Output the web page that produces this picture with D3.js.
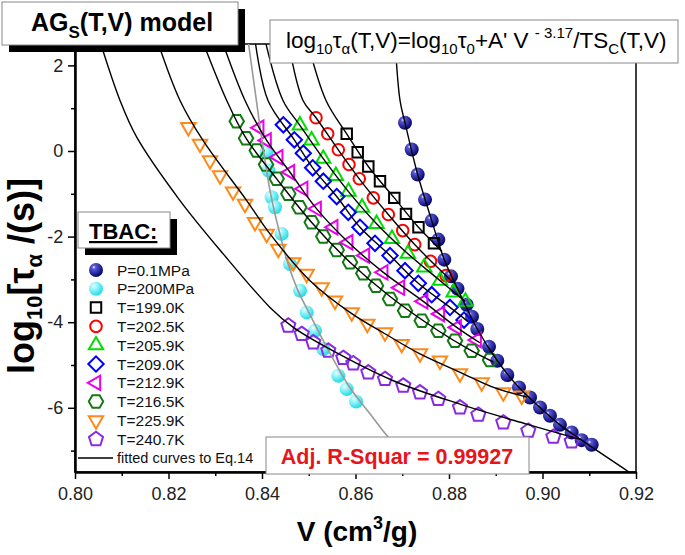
<!DOCTYPE html>
<html><head><meta charset="utf-8">
<script src="https://cdn.jsdelivr.net/npm/d3@7"></script>
<style>body{margin:0;background:#fff}svg{display:block;font-family:Arial,"Liberation Sans",sans-serif}</style>
</head><body><svg id="c" width="685" height="555"></svg>
<script>
// ---------- data (V in cm3/g, log10 tau) ----------
const xTicks = [0.80,0.82,0.84,0.86,0.88,0.90,0.92];
const xMinor = [0.81,0.83,0.85,0.87,0.89,0.91];
const yTicks = [-6,-4,-2,0,2];
const yMinor = [-7,-5,-3,-1,1];

const isobar01 = [[0.87059,0.660],[0.87202,0.035],[0.87330,-0.550],[0.87487,-1.135],[0.87630,-1.626],[0.87771,-2.070],[0.87899,-2.538],[0.88043,-2.929],[0.88182,-3.216],[0.88378,-3.591],[0.88492,-3.871],[0.88605,-4.159],[0.88856,-4.573],[0.89033,-4.901],[0.89247,-5.235],[0.89497,-5.525],[0.89733,-5.759],[0.89947,-5.993],[0.90160,-6.187],[0.90374,-6.398],[0.90624,-6.578],[0.90838,-6.756],[0.91052,-6.865]];
const isobar200 = [[0.84100,-0.028],[0.84139,-0.456],[0.84207,-1.081],[0.84278,-1.315],[0.84421,-1.937],[0.84599,-2.639],[0.84813,-3.263],[0.84956,-3.771],[0.85134,-4.199],[0.85311,-4.627],[0.85632,-5.251],[0.85812,-5.563],[0.86011,-5.853]];
const T1990 = [[0.85812,0.402],[0.86047,-0.028],[0.86274,-0.363],[0.86524,-0.706],[0.86830,-1.095],[0.87080,-1.469],[0.87347,-1.782],[0.87679,-2.157]];
const T2025 = [[0.85155,0.777],[0.85405,0.402],[0.85632,0.028],[0.85861,-0.316],[0.86081,-0.650],[0.86381,-1.095],[0.86702,-1.485],[0.87010,-1.860],[0.87266,-2.187],[0.87604,-2.578],[0.87936,-2.912]];
const T2059 = [[0.8481,0.60],[0.8506,0.25],[0.8531,-0.18],[0.8558,-0.58],[0.8585,-0.95],[0.8614,-1.32],[0.8645,-1.70],[0.8678,-2.05],[0.8712,-2.40],[0.8747,-2.72],[0.8781,-3.03],[0.8810,-3.30],[0.8835,-3.52]];
const T2090 = [[0.84456,0.613],[0.84691,0.262],[0.84883,-0.051],[0.85084,-0.393],[0.85311,-0.706],[0.85598,-1.064],[0.85846,-1.432],[0.86096,-1.782],[0.86417,-2.157],[0.86738,-2.444],[0.87059,-2.795],[0.87343,-3.092],[0.87630,-3.357],[0.88021,-3.654],[0.88321,-3.949]];
const T2129 = [[0.83942,0.543],[0.84100,0.246],[0.84349,-0.145],[0.84599,-0.496],[0.84883,-0.884],[0.85170,-1.352],[0.85525,-1.782],[0.85846,-2.133],[0.86203,-2.444],[0.86595,-2.835],[0.86952,-3.193],[0.87450,-3.513],[0.87807,-3.808],[0.88165,-4.122],[0.88593,-4.416]];
const T2165 = [[0.83459,0.697],[0.83658,0.299],[0.83887,0.012],[0.84086,-0.316],[0.84314,-0.650],[0.84563,-1.001],[0.84798,-1.315],[0.85063,-1.666],[0.85311,-2.000],[0.85598,-2.311],[0.85882,-2.601],[0.86167,-2.858],[0.86439,-3.146],[0.86738,-3.457],[0.87059,-3.731],[0.87416,-3.965],[0.87771,-4.199],[0.88128,-4.433],[0.88485,-4.667],[0.88877,-4.884]];
const T2259 = [[0.82424,0.557],[0.82674,0.168],[0.82888,-0.222],[0.83102,-0.573],[0.83380,-0.947],[0.83636,-1.235],[0.83850,-1.665],[0.84100,-1.937],[0.84349,-2.288],[0.84670,-2.601],[0.84956,-2.873],[0.85277,-3.186],[0.85561,-3.497],[0.85919,-3.771],[0.86253,-4.042],[0.86631,-4.239],[0.86988,-4.510],[0.87380,-4.730],[0.87807,-4.901],[0.88235,-5.198],[0.88699,-5.408],[0.89161,-5.642],[0.89555,-5.719]];
const T2407 = [[0.84563,-4.082],[0.84849,-4.276],[0.85097,-4.473],[0.85418,-4.667],[0.85739,-4.837],[0.85953,-4.964],[0.86274,-5.175],[0.86631,-5.329],[0.87022,-5.485],[0.87380,-5.642],[0.87771,-5.796],[0.88235,-5.993],[0.88627,-6.164],[0.89161,-6.344],[0.89696,-6.538],[0.90231,-6.678],[0.90624,-6.788]];

// fitted curves
const fit01 = [[0.86845,2.6],[0.86952,1.181],[0.87059,0.660],[0.87330,-0.550],[0.87630,-1.626],[0.87899,-2.538],[0.88182,-3.216],[0.88605,-4.159],[0.89033,-4.901],[0.89497,-5.525],[0.89947,-5.993],[0.90374,-6.398],[0.90838,-6.756],[0.9185,-7.5]];
const fit200 = [[0.83700,2.6],[0.83850,1.415],[0.84000,0.246],[0.84171,-0.924],[0.84364,-1.860],[0.84556,-2.632],[0.84770,-3.263],[0.85027,-3.825],[0.85391,-4.596],[0.85882,-5.532],[0.86310,-6.140],[0.86674,-6.655],[0.8739,-7.5]];
const fit1990 = [[0.84963,2.6],[0.85369,1.181],[0.85812,0.402],[0.86274,-0.363],[0.86830,-1.095],[0.87347,-1.782],[0.87679,-2.157],[0.8785,-2.35]];
const fit2025 = [[0.84556,2.6],[0.84877,1.181],[0.85155,0.777],[0.85632,0.028],[0.86081,-0.650],[0.86702,-1.485],[0.87266,-2.187],[0.87936,-2.912],[0.8810,-3.08]];
const fit2059 = [[0.84064,2.6],[0.84449,1.181],[0.8481,0.60],[0.8531,-0.18],[0.8585,-0.95],[0.8645,-1.70],[0.8712,-2.40],[0.8781,-3.03],[0.8835,-3.52]];
const fit2090 = [[0.83850,2.6],[0.84128,1.181],[0.84691,0.262],[0.85084,-0.393],[0.85598,-1.064],[0.86096,-1.782],[0.86738,-2.444],[0.87343,-3.092],[0.88021,-3.654],[0.8840,-3.98]];
const fit2129 = [[0.83137,2.6],[0.83637,1.181],[0.84100,0.246],[0.84599,-0.496],[0.85170,-1.352],[0.85846,-2.133],[0.86595,-2.835],[0.87450,-3.513],[0.88165,-4.122],[0.8866,-4.48]];
const fit2165 = [[0.82717,2.6],[0.83245,1.181],[0.83658,0.30],[0.84314,-0.65],[0.85063,-1.67],[0.85882,-2.60],[0.86738,-3.40],[0.87771,-4.20],[0.88485,-4.67],[0.8895,-4.93]];
const fit2259 = [[0.81754,2.6],[0.82246,1.181],[0.82738,0.246],[0.83673,-1.158],[0.84171,-1.937],[0.85027,-3.029],[0.8592,-3.80],[0.8663,-4.27],[0.8738,-4.74],[0.8824,-5.17],[0.8897,-5.53],[0.8967,-5.75]];
const fit2407 = [[0.80524,2.6],[0.80963,1.181],[0.81320,0.323],[0.82246,-1.158],[0.83166,-2.398],[0.84171,-3.654],[0.84670,-4.122],[0.85384,-4.590],[0.86809,-5.368],[0.88235,-5.914],[0.89662,-6.381],[0.90845,-6.749]];

const seriesNames = ["P=0.1MPa","P=200MPa","T=199.0K","T=202.5K","T=205.9K","T=209.0K","T=212.9K","T=216.5K","T=225.9K","T=240.7K"];
const seriesData = [isobar01,isobar200,T1990,T2025,T2059,T2090,T2129,T2165,T2259,T2407];
const seriesColors = ["#0a0a85","#30e6f0","#000000","#ff0000","#00dd00","#0000ff","#ee00ee","#147a14","#ff8a1a","#8a2be2"];
const seriesShapes = ["ball","ball","square","circle","triUp","diamond","triLeft","hexagon","triDown","pentagon"];
const fitCurves = [fit2407,fit2259,fit2165,fit2129,fit2090,fit2059,fit2025,fit1990,fit01];

// ---------- drawing ----------
const svg = d3.select("#c");
const L=75,R=636,T=44,B=472;
const x = d3.scaleLinear().domain([0.80,0.92]).range([L,R]);
const y = d3.scaleLinear().domain([-7.5,2.5]).range([B,T]);

const defs = svg.append("defs");
function ballGrad(id, dark, light){
  const g = defs.append("radialGradient").attr("id",id).attr("cx","35%").attr("cy","30%").attr("r","70%");
  g.append("stop").attr("offset","0%").attr("stop-color","#ffffff");
  g.append("stop").attr("offset","18%").attr("stop-color",light);
  g.append("stop").attr("offset","100%").attr("stop-color",dark);
}
ballGrad("gBlue","#05056e","#5a5ad8");
ballGrad("gCyan","#22dde8","#b8fbff");
defs.append("clipPath").attr("id","clip").append("rect").attr("x",L).attr("y",T).attr("width",R-L).attr("height",B-T);

function polyPath(n, r, rot){
  const p = d3.path();
  for(let i=0;i<n;i++){
    const a = rot + i*2*Math.PI/n;
    const px = r*Math.cos(a), py = r*Math.sin(a);
    if(i===0) p.moveTo(px,py); else p.lineTo(px,py);
  }
  p.closePath(); return p.toString();
}
const shapePaths = {
  square: polyPath(4, 7.4, Math.PI/4),
  circle: d3.symbol(d3.symbolCircle, 105)(),
  triUp: polyPath(3, 8.3, -Math.PI/2),
  triDown: polyPath(3, 8.3, Math.PI/2),
  triLeft: polyPath(3, 8.3, Math.PI),
  diamond: polyPath(4, 7.7, 0),
  hexagon: polyPath(6, 7.2, 0),
  pentagon: polyPath(5, 7.4, -Math.PI/2)
};
function drawMarker(g, shape, color, cx, cy, idx){
  if(shape==="ball"){
    g.append("circle").attr("cx",cx).attr("cy",cy).attr("r",7)
      .attr("fill", idx===0 ? "url(#gBlue)" : "url(#gCyan)");
  } else {
    g.append("path").attr("d",shapePaths[shape]).attr("transform",`translate(${cx},${cy})`)
      .attr("fill","none").attr("stroke",color).attr("stroke-width",2);
  }
}

// frame
svg.append("rect").attr("x",L).attr("y",T).attr("width",R-L).attr("height",B-T)
  .attr("fill","none").attr("stroke","#000").attr("stroke-width",1.5);

// axes
const ax = svg.append("g").attr("transform",`translate(0,${B})`)
  .call(d3.axisBottom(x).tickValues(xTicks).tickFormat(d3.format(".2f")).tickSize(7).tickSizeOuter(0));
svg.append("g").attr("transform",`translate(0,${B})`)
  .call(d3.axisBottom(x).tickValues(xMinor).tickFormat("").tickSize(4).tickSizeOuter(0));
const ay = svg.append("g").attr("transform",`translate(${L},0)`)
  .call(d3.axisLeft(y).tickValues(yTicks).tickFormat(d=>String(d)).tickSize(7).tickSizeOuter(0));
svg.append("g").attr("transform",`translate(${L},0)`)
  .call(d3.axisLeft(y).tickValues(yMinor).tickFormat("").tickSize(4).tickSizeOuter(0));
svg.selectAll(".domain").attr("stroke","#000").attr("stroke-width",2);
svg.selectAll(".tick line").attr("stroke","#000").attr("stroke-width",1.5);
ax.selectAll(".tick text").attr("font-size",18).attr("font-family","Arial, Liberation Sans").attr("dy","1.0em").attr("fill","#222");
ay.selectAll(".tick text").attr("font-size",18).attr("font-family","Arial, Liberation Sans").attr("dx","-0.1em").attr("fill","#222");

// markers
const mk = svg.append("g").attr("clip-path","url(#clip)");
seriesData.forEach((arr,i)=>{
  const g = mk.append("g");
  arr.forEach(d=>drawMarker(g, seriesShapes[i], seriesColors[i], x(d[0]), y(d[1]), i));
});

// fitted curves
const line = d3.line().x(d=>x(d[0])).y(d=>y(d[1])).curve(d3.curveCatmullRom.alpha(0.5));
const fg = svg.append("g").attr("clip-path","url(#clip)");
fg.append("path").attr("d",line(fit200)).attr("fill","none").attr("stroke","#999").attr("stroke-width",1.6);
fitCurves.forEach(c=>{
  fg.append("path").attr("d",line(c)).attr("fill","none").attr("stroke","#000").attr("stroke-width",1.4);
});

// title box
svg.append("rect").attr("x",9).attr("y",9).attr("width",236).attr("height",43).attr("fill","#000");
svg.append("rect").attr("x",2).attr("y",2).attr("width",236).attr("height",43).attr("fill","#fff").attr("stroke","#888").attr("stroke-width",1);
const tt = svg.append("text").attr("x",31).attr("y",31).attr("font-size",25).attr("font-weight","bold").attr("fill","#000");
tt.append("tspan").text("AG");
tt.append("tspan").attr("font-size",17).attr("dy",7).text("S");
tt.append("tspan").attr("dy",-7).text("(T,V) model");

// equation box
svg.append("rect").attr("x",270).attr("y",20).attr("width",408).attr("height",43).attr("fill","#fff").attr("stroke","#888").attr("stroke-width",1);
const eq = svg.append("text").attr("x",286).attr("y",48).attr("font-size",22.5).attr("fill","#000");
function sub(t,s){ eq.append("tspan").attr("font-size",15).attr("dy",6).text(s); eq.append("tspan").attr("dy",-6).text(t); }
eq.append("tspan").text("log");
sub("τ","10");
sub("(T,V)=log","α");
sub("τ","10");
sub("+A' V ","0");
eq.append("tspan").attr("font-size",15).attr("dy",-10).text("- 3.17");
eq.append("tspan").attr("dy",10).text("/TS");
sub("(T,V)","C");

// R-square box
svg.append("rect").attr("x",266).attr("y",437).attr("width",263).attr("height",37).attr("fill","#fff").attr("stroke","#888").attr("stroke-width",1);
svg.append("text").attr("x",397).attr("y",464).attr("text-anchor","middle").attr("font-size",21.5).attr("font-weight","bold").attr("fill","#e8141b").text("Adj. R-Squar = 0.99927");

// legend
svg.append("rect").attr("x",85).attr("y",219).attr("width",92).attr("height",36).attr("fill","#000");
svg.append("rect").attr("x",78).attr("y",212).attr("width",92).attr("height",36).attr("fill","#fff").attr("stroke","#888").attr("stroke-width",1);
svg.append("text").attr("x",89).attr("y",239).attr("font-size",22).attr("font-weight","bold").attr("text-decoration","underline").text("TBAC:");
const lg = svg.append("g");
seriesNames.forEach((n,i)=>{
  const yy = 270 + i*18.8;
  drawMarker(lg, seriesShapes[i], seriesColors[i], 96, yy, i);
  lg.append("text").attr("x",117).attr("y",yy+5.5).attr("font-size",15.5).attr("fill","#111").text(n);
});
const fy = 270 + 10*18.8;
lg.append("line").attr("x1",78).attr("x2",113).attr("y1",fy).attr("y2",fy).attr("stroke","#000").attr("stroke-width",1.5);
lg.append("text").attr("x",117).attr("y",fy+5).attr("font-size",14.5).attr("fill","#111").text("fitted curves to Eq.14");

// axis titles
const xt = svg.append("text").attr("x",357).attr("y",541).attr("text-anchor","middle").attr("font-size",28).attr("font-weight","bold");
xt.append("tspan").text("V (cm");
xt.append("tspan").attr("font-size",18).attr("dy",-12).text("3");
xt.append("tspan").attr("dy",12).text("/g)");
const yt = svg.append("text").attr("transform","translate(34,276) rotate(-90)").attr("text-anchor","middle").attr("font-size",36).attr("font-weight","bold");
yt.append("tspan").text("log");
yt.append("tspan").attr("font-size",22).attr("dy",8).text("10");
yt.append("tspan").attr("dy",-8).text("[τ");
yt.append("tspan").attr("font-size",22).attr("dy",8).text("α");
yt.append("tspan").attr("dy",-8).text("  /(s)]");
</script></body></html>
